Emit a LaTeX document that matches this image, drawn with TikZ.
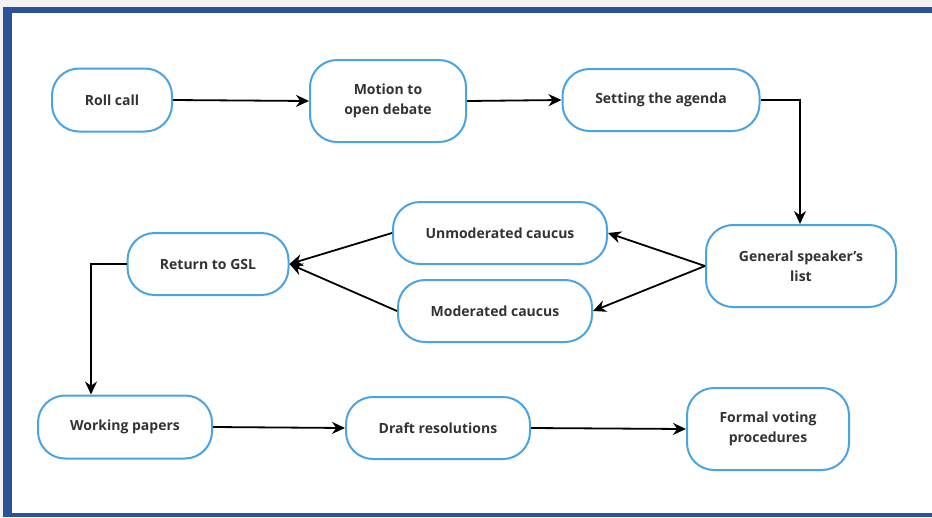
\documentclass[tikz,border=0pt]{standalone}
\usepackage{fontspec}
\setmainfont{Open Sans}
\usetikzlibrary{arrows.meta}
\definecolor{frameblue}{HTML}{2B5198}
\definecolor{nodeblue}{HTML}{4AA3E2}
\definecolor{txt}{HTML}{333333}
\definecolor{bggray}{HTML}{F2F2F2}
\tikzset{
  box/.style={draw=nodeblue, line width=2pt, fill=white, rounded corners=27pt,
    align=center, font=\fontsize{14pt}{20pt}\selectfont\bfseries, text=txt, inner sep=0pt},
  conn/.style={draw=black, line width=1.8pt, -{Stealth[length=13pt,width=12pt]}},
}
\begin{document}
\begin{tikzpicture}[x=1pt,y=-1pt]
\useasboundingbox (0,0) rectangle (932,517);
\fill[bggray] (0,0) rectangle (932,517);
\fill[frameblue] (3,7) rectangle (932,517);
\fill[white] (12,13) rectangle (932,513);

\node[box, minimum width=120pt, minimum height=63pt] (roll) at (112,100) {Roll call};
\node[box, minimum width=156pt, minimum height=82pt] (motion) at (388,101) {Motion to\\open debate};
\node[box, minimum width=197pt, minimum height=62pt] (agenda) at (661,100) {Setting the agenda};
\node[box, minimum width=190pt, minimum height=82pt] (gsl) at (801,266) {General speaker's\\list};
\node[box, minimum width=214pt, minimum height=62pt] (unmod) at (500,233) {Unmoderated caucus};
\node[box, minimum width=194pt, minimum height=62pt] (mod) at (495,311) {Moderated caucus};
\node[box, minimum width=161pt, minimum height=62pt] (ret) at (208,264) {Return to GSL};
\node[box, minimum width=174pt, minimum height=63pt] (work) at (125,427) {Working papers};
\node[box, minimum width=184pt, minimum height=62pt] (draft) at (438,428) {Draft resolutions};
\node[box, minimum width=162pt, minimum height=82pt] (vote) at (768,429) {Formal voting\\procedures};

\coordinate (gslL) at (gsl.west);
\coordinate (retR) at (ret.east);

\draw[conn] (roll.east) -- (motion.west);
\draw[conn] (motion.east) -- (agenda.west);
\draw[conn] (agenda.east) -- (800,100) -- (gsl.north -| 800,0);
\draw[conn] (gslL) -- (unmod.east);
\draw[conn] (gslL) -- (mod.east);
\draw[conn] (unmod.west) -- (retR);
\draw[conn] (mod.west) -- (retR);
\draw[conn] (ret.west) -- (91,264) -- (work.north -| 91,0);
\draw[conn] (work.east) -- (draft.west);
\draw[conn] (draft.east) -- (vote.west);
\end{tikzpicture}
\end{document}
